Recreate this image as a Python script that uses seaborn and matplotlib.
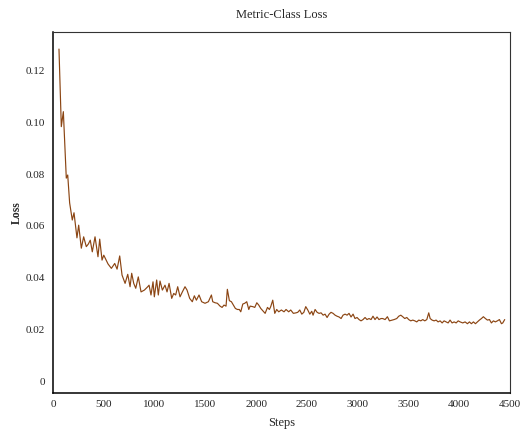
import matplotlib
matplotlib.use("Agg")
import matplotlib.pyplot as plt
from matplotlib.ticker import FuncFormatter
import seaborn as sns
import pandas as pd

# values
steps = [
    59, 82, 102, 131, 145, 164, 190, 207, 236, 253, 279, 302, 328, 348, 367, 387,
    414, 443, 460, 483, 500, 542, 575, 608, 631, 657, 680,
    710, 736, 759, 775, 795, 815, 840, 867, 900, 933, 946, 965, 985, 998,
    1021, 1037, 1054, 1077, 1103, 1123, 1143, 1169, 1189, 1208, 1228, 1251,
    1274, 1300, 1320, 1346, 1372, 1392, 1412, 1438, 1464, 1497, 1530, 1560,
    1573, 1596, 1619, 1645, 1665, 1684, 1704, 1717, 1737, 1757, 1776, 1796,
    1816, 1835, 1849, 1869, 1888, 1908, 1928, 1941, 1967, 1987, 2007, 2026,
    2046, 2066, 2089, 2112, 2131, 2144, 2164, 2184, 2203, 2223, 2249, 2275,
    2295, 2321, 2341, 2367, 2393,
    2410, 2430, 2450, 2470, 2489, 2509, 2529, 2548, 2561, 2581, 2601, 2620,
    2640, 2660, 2679, 2699, 2719, 2738, 2758, 2778, 2797, 2817, 2837, 2856,
    2876, 2896, 2915, 2935, 2955, 2974, 2994, 3014, 3033, 3053, 3073, 3092,
    3112, 3132, 3151, 3171, 3191, 3210, 3230,
    3247, 3270, 3293, 3313, 3339, 3359, 3385, 3405, 3425, 3444, 3464, 3484,
    3503, 3523, 3543, 3563, 3582, 3602, 3622, 3641, 3661, 3681, 3700, 3714,
    3733, 3753, 3773, 3792, 3812, 3832, 3851, 3871, 3891, 3910, 3930, 3950,
    3970, 3990,
    4009, 4035, 4058, 4081, 4101, 4120, 4140, 4160, 4179, 4199, 4219, 4238,
    4258, 4278, 4298, 4317, 4337, 4356, 4376, 4396, 4416, 4429, 4448,
]
loss = [
    0.1284, 0.0984, 0.1042, 0.0785, 0.0797, 0.0689, 0.0623, 0.0651, 0.0554, 0.0603,
    0.0514, 0.0558, 0.0520, 0.0530, 0.0545, 0.0500, 0.0558, 0.0481, 0.0549, 0.0468,
    0.0487, 0.0453, 0.0436, 0.0455, 0.0433, 0.0484, 0.0410,
    0.0378, 0.0413, 0.0365, 0.0417, 0.0378, 0.0359, 0.0403, 0.0345, 0.0352, 0.0365,
    0.0371, 0.0333, 0.0384, 0.0326, 0.0391, 0.0333, 0.0387, 0.0352, 0.0371, 0.0345,
    0.0378, 0.0320, 0.0339, 0.0333, 0.0365, 0.0326, 0.0345, 0.0365, 0.0352, 0.0320,
    0.0307, 0.0330, 0.0313, 0.0333, 0.0307, 0.0301, 0.0307, 0.0333,
    0.0307, 0.0303, 0.0301, 0.0290, 0.0285, 0.0294, 0.0290, 0.0355, 0.0311, 0.0307,
    0.0294, 0.0281, 0.0277, 0.0277, 0.0268, 0.0298, 0.0301, 0.0307, 0.0277, 0.0290,
    0.0288, 0.0285, 0.0303, 0.0294, 0.0281, 0.0272, 0.0262, 0.0285, 0.0277, 0.0288,
    0.0313, 0.0262, 0.0277, 0.0268, 0.0275, 0.0268, 0.0277, 0.0268, 0.0275, 0.0262,
    0.0264,
    0.0266, 0.0275, 0.0259, 0.0266, 0.0288, 0.0275, 0.0259, 0.0270, 0.0255, 0.0277,
    0.0266, 0.0262, 0.0264, 0.0255, 0.0259, 0.0246, 0.0259, 0.0266, 0.0262, 0.0255,
    0.0251, 0.0248, 0.0242, 0.0255, 0.0259, 0.0255, 0.0262, 0.0248, 0.0259, 0.0242,
    0.0246, 0.0238, 0.0233, 0.0238, 0.0246, 0.0238, 0.0242, 0.0238, 0.0251, 0.0238,
    0.0248, 0.0238, 0.0242,
    0.0242, 0.0238, 0.0249, 0.0233, 0.0236, 0.0238, 0.0242, 0.0251, 0.0255, 0.0249,
    0.0242, 0.0246, 0.0238, 0.0233, 0.0236, 0.0233, 0.0229, 0.0236, 0.0233, 0.0238,
    0.0233, 0.0238, 0.0264, 0.0242, 0.0236, 0.0233, 0.0236, 0.0229, 0.0233, 0.0225,
    0.0233, 0.0229, 0.0225, 0.0236, 0.0225, 0.0229, 0.0225, 0.0233,
    0.0229, 0.0225, 0.0229, 0.0222, 0.0229, 0.0222, 0.0229, 0.0222, 0.0229, 0.0236,
    0.0242, 0.0249, 0.0242, 0.0236, 0.0238, 0.0225, 0.0233, 0.0229, 0.0233, 0.0238,
    0.0222, 0.0225, 0.0238,
]

x_ticks = [0, 500, 1000, 1500, 2000, 2500, 3000, 3500, 4000, 4500]
y_ticks = [0, 0.02, 0.04, 0.06, 0.08, 0.10, 0.12]

sns.set_style("white")
plt.rcParams['font.family'] = ['Liberation Serif', 'DejaVu Serif']

df = pd.DataFrame({'Steps': steps, 'Loss': loss})

fig = plt.figure(figsize=(5.32, 4.36), dpi=100)
ax = fig.add_axes([0.0996, 0.0986, 0.859, 0.828])
sns.lineplot(data=df, x='Steps', y='Loss', color='#8B4513', linewidth=0.85, ax=ax)

ax.set_xlim(0, 4500)
ax.set_ylim(-0.0046, 0.135)
ax.set_xticks(x_ticks)
ax.set_yticks(y_ticks)
ax.yaxis.set_major_formatter(FuncFormatter(lambda v, p: '0' if v == 0 else f'{v:.2f}'))
ax.tick_params(axis='x', length=0, labelsize=8, pad=5)
ax.tick_params(axis='y', length=0, labelsize=8, pad=6)

ax.set_title("Metric-Class Loss", fontsize=9, pad=10)
ax.set_xlabel("Steps", fontsize=9, labelpad=6)
ax.set_ylabel("Loss", fontsize=8.5, fontweight='bold', labelpad=2)

for side in ['top', 'right']:
    ax.spines[side].set_color('#333333')
    ax.spines[side].set_linewidth(0.8)
for side in ['left', 'bottom']:
    ax.spines[side].set_color('black')
    ax.spines[side].set_linewidth(1.1)

fig.savefig("out.png", dpi=100)
